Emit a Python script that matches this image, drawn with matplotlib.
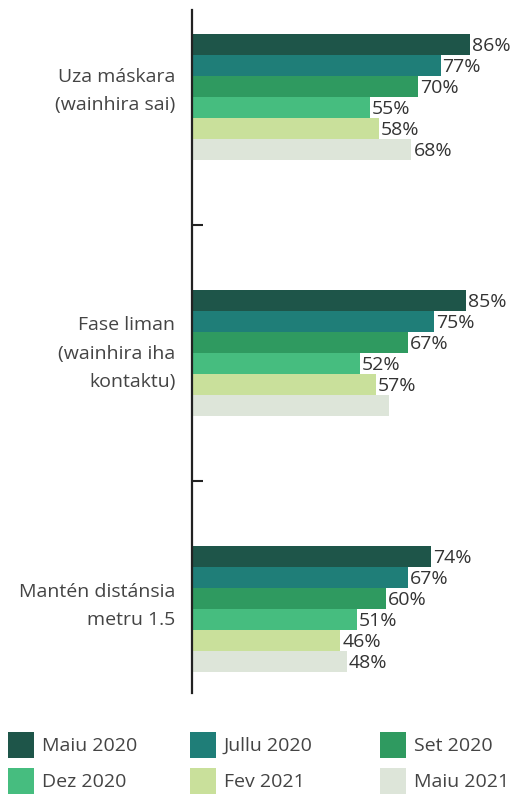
import matplotlib
matplotlib.use("Agg")
import matplotlib.pyplot as plt
from matplotlib.patches import Rectangle
import matplotlib.transforms as mtransforms
import numpy as np

plt.rcParams['font.family'] = ['Open Sans', 'DejaVu Sans']

categories = ["Uza máskara\n(wainhira sai)",
              "Fase liman\n(wainhira iha\nkontaktu)",
              "Mantén distánsia\nmetru 1.5"]
series = ["Maiu 2020", "Jullu 2020", "Set 2020", "Dez 2020", "Fev 2021", "Maiu 2021"]
colors = ["#1e5549", "#1f7e78", "#2f9a60", "#46bd7f", "#c9e09b", "#dde5d9"]
# values[series][category]
values = [
    [86, 85, 74],
    [77, 75, 67],
    [70, 67, 60],
    [55, 52, 51],
    [58, 57, 46],
    [68, 61, 48],
]
show_label = [
    [True, True, True],
    [True, True, True],
    [True, True, True],
    [True, True, True],
    [True, True, True],
    [True, False, True],
]

W, H = 518, 795
fig = plt.figure(figsize=(W / 100, H / 100), dpi=100)
ax = fig.add_axes([192 / W, 1 - 693 / H, 1 - 192 / W, (693 - 10) / H])

bar_h = 21 / 256
n = len(series)
ycenters = np.arange(len(categories))
for i, (s, c) in enumerate(zip(series, colors)):
    ys = ycenters + (i - (n - 1) / 2) * bar_h
    ax.barh(ys, values[i], height=bar_h, color=c, linewidth=0)
    for j, (y, v) in enumerate(zip(ys, values[i])):
        if show_label[i][j]:
            ax.text(v + 0.6, y + 0.004, f"{v}%", va="center", ha="left", fontsize=14,
                    color="#333333",
                    bbox=dict(facecolor="white", edgecolor="none", pad=0.3))

ax.set_xlim(0, 101)
ax.set_ylim((693 - 97) / 256, (10 - 97) / 256)
ax.set_xticks([])
ax.set_yticks([])
ax.set_yticks([0.5, 1.5], minor=True)
ax.tick_params(axis="y", which="minor", length=8, width=1.5, direction="in", color="#222222")

# category labels (placed at group centres, nudged a few pixels upward)
label_offsets_px = [6, -1, 3]
base = mtransforms.blended_transform_factory(ax.transAxes, ax.transData)
for cat, yc, off in zip(categories, ycenters, label_offsets_px):
    tr = mtransforms.offset_copy(base, fig=fig, x=-12, y=off * 72 / 100, units="points")
    ax.text(0, yc, cat, transform=tr, ha="right", va="center", multialignment="right",
            fontsize=14, color="#444444", linespacing=1.75)

for sp in ["top", "right", "bottom"]:
    ax.spines[sp].set_visible(False)
ax.spines["left"].set_linewidth(1.6)
ax.spines["left"].set_color("#222222")

# legend
col_x = [8, 190, 380]
row_y = [732, 768]
sq = 26
for i, (s, c) in enumerate(zip(series, colors)):
    cx = col_x[i % 3]
    ry = row_y[i // 3]
    fig.patches.append(Rectangle((cx / W, 1 - (ry + sq) / H), sq / W, sq / H,
                                 transform=fig.transFigure, facecolor=c,
                                 edgecolor="none"))
    fig.text((cx + sq + 8) / W, 1 - (ry + sq / 2 + 1) / H, s, va="center", ha="left",
             fontsize=14, color="#444444")

fig.savefig("out.png", dpi=100, facecolor="white")
